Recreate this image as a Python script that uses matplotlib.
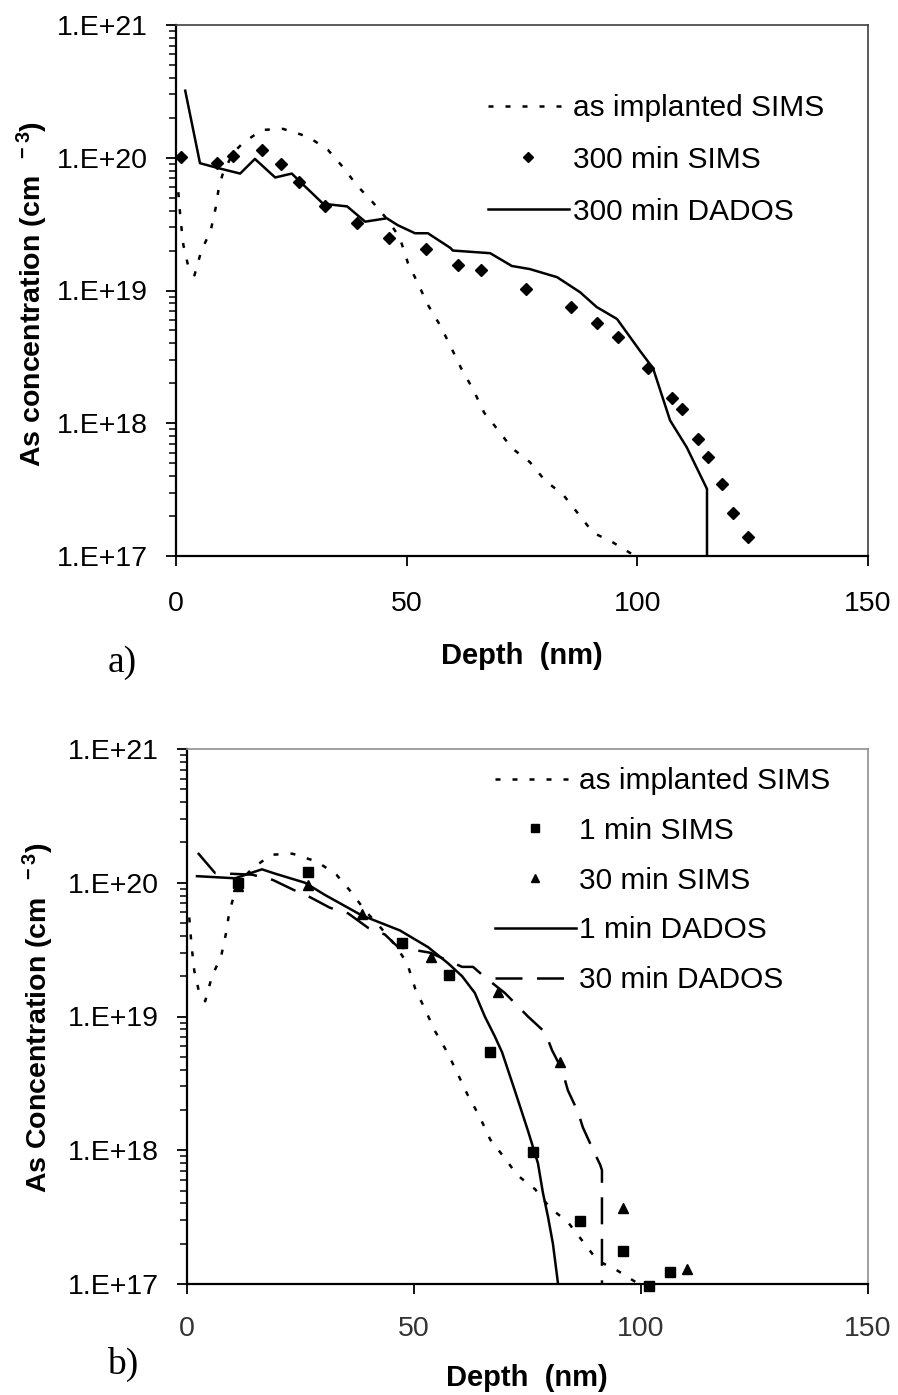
import numpy as np
import matplotlib
matplotlib.use("Agg")
import matplotlib.pyplot as plt
from matplotlib.ticker import FixedLocator, LogLocator, FixedFormatter, NullFormatter

plt.rcParams['font.family'] = ['Liberation Sans', 'DejaVu Sans']
plt.rcParams['mathtext.fontset'] = 'custom'
plt.rcParams['mathtext.rm'] = 'Liberation Sans:bold'
plt.rcParams['mathtext.bf'] = 'Liberation Sans:bold'
plt.rcParams['mathtext.default'] = 'bf'

# ---------------- data ----------------
# As-implanted SIMS profile (same measurement in both panels)
implant_depth = [0.5, 1.0, 1.6, 2.6, 4.0, 5.5, 7.5, 8.6, 9.3, 10.2, 12.4, 14.5, 18.6,
                 23.2, 28.6, 32.9, 36.2, 39.2, 42.7, 45.9, 48.5, 50.3, 52.4, 54.6,
                 57.2, 59.2, 61.8, 64.4, 66.8, 69.8, 72.8, 76.7, 80.0, 83.9, 87.1,
                 90.4, 94.8, 99.1, 101.5]
implant_conc = [5.5e19, 3.4e19, 2.2e19, 1.55e19, 1.3e19, 2.0e19, 2.8e19, 4.2e19, 6.0e19,
                7.7e19, 1.09e20, 1.29e20, 1.62e20, 1.65e20, 1.44e20, 1.15e20, 8.5e19,
                6.2e19, 4.6e19, 3.4e19, 2.5e19, 1.6e19, 1.14e19, 7.8e18, 5.5e18,
                4.0e18, 2.6e18, 1.8e18, 1.2e18, 8.9e17, 6.5e17, 5.1e17, 3.7e17,
                2.9e17, 2.1e17, 1.5e17, 1.26e17, 1.02e17, 0.95e17]

# Panel a: 300 min anneal
sims300_depth = [1.1, 8.9, 12.4, 18.6, 22.8, 26.7, 32.3, 39.2, 46.2, 54.2, 61.1, 66.1,
                 75.9, 85.6, 91.2, 95.8, 102.3, 107.5, 109.7, 113.1, 115.3, 118.3,
                 120.7, 124.0]
sims300_conc = [1.01e20, 9.1e19, 1.03e20, 1.15e20, 8.9e19, 6.6e19, 4.3e19, 3.2e19,
                2.5e19, 2.06e19, 1.55e19, 1.43e19, 1.03e19, 7.5e18, 5.7e18, 4.5e18,
                2.6e18, 1.55e18, 1.28e18, 7.6e17, 5.6e17, 3.5e17, 2.1e17, 1.4e17]

dados300_depth = [2.0, 5.2, 8.9, 13.9, 17.1, 21.5, 25.1, 26.9, 31.9, 37.1, 41.0, 45.7,
                  48.1, 51.8, 54.6, 59.5, 60.0, 68.1, 72.8, 76.7, 82.6, 87.6, 91.2,
                  95.6, 100.6, 103.4, 107.1, 110.7, 115.1, 115.1]
dados300_conc = [3.2e20, 9.1e19, 8.4e19, 7.6e19, 9.8e19, 7.1e19, 7.6e19, 6.6e19, 4.5e19,
                 4.3e19, 3.3e19, 3.5e19, 3.1e19, 2.7e19, 2.7e19, 2.09e19, 2.0e19,
                 1.91e19, 1.53e19, 1.45e19, 1.26e19, 9.7e18, 7.5e18, 6.1e18, 3.5e18,
                 2.6e18, 1.05e18, 6.6e17, 3.2e17, 5e16]

# Panel b: 1 min and 30 min anneals
sims1_depth = [11.2, 26.7, 47.4, 57.7, 66.7, 76.2, 86.6, 96.0, 101.8, 106.4]
sims1_conc = [1.0e20, 1.2e20, 3.55e19, 2.05e19, 5.4e18, 9.7e17, 2.95e17, 1.78e17,
              0.97e17, 1.23e17]

sims30_depth = [11.2, 26.7, 38.5, 53.7, 68.5, 82.2, 96.0, 110.1]
sims30_conc = [9.5e19, 9.6e19, 5.8e19, 2.8e19, 1.52e19, 4.6e18, 3.7e17, 1.3e17]

dados1_depth = [2.2, 10.6, 16.5, 19.4, 26.0, 30.4, 38.5, 46.9, 53.1, 57.5, 60.6, 63.4,
                65.6, 67.8, 69.4, 72.2, 75.1, 77.3, 78.4, 79.5, 80.6, 81.7, 82.1]
dados1_conc = [1.12e20, 1.08e20, 1.26e20, 1.17e20, 1.0e20, 8.1e19, 5.7e19, 4.4e19,
               3.3e19, 2.5e19, 2.0e19, 1.5e19, 1.0e19, 7.1e18, 5.4e18, 2.8e18, 1.4e18,
               8.0e17, 4.8e17, 3.2e17, 2.0e17, 1.02e17, 8e16]

dados30_depth = [2.4, 6.2, 14.3, 18.9, 23.3, 27.1, 31.5, 35.5, 39.9, 43.6, 46.5, 53.5,
                 60.6, 63.0, 65.6, 70.0, 72.2, 75.1, 78.9, 80.4, 82.6, 83.9, 86.1,
                 87.2, 89.6, 91.0, 91.4, 91.4]
dados30_conc = [1.67e20, 1.18e20, 1.15e20, 1.05e20, 8.9e19, 7.8e19, 6.5e19, 5.9e19,
                4.6e19, 4.1e19, 3.3e19, 3.0e19, 2.35e19, 2.35e19, 1.97e19, 1.5e19,
                1.26e19, 1.0e19, 7.6e18, 5.6e18, 4.0e18, 2.8e18, 1.94e18, 1.48e18,
                9.8e17, 7.8e17, 7.1e17, 5e16]

x_ticks = [0, 50, 100, 150]
y_ticks = [1e17, 1e18, 1e19, 1e20, 1e21]
y_tick_labels = ["1.E+17", "1.E+18", "1.E+19", "1.E+20", "1.E+21"]

# ---------------- figure ----------------
W, H = 898, 1395
fig = plt.figure(figsize=(W / 100, H / 100), dpi=100)


def rect(l, t, r, b):
    return [l / W, 1 - b / H, (r - l) / W, (b - t) / H]


ax_a = fig.add_axes(rect(176, 25, 868, 556))
ax_b = fig.add_axes(rect(187, 749, 868, 1284))

LW = 1.8
DOT = (0, (2.0, 4.8))
LONG_DASH = (0, (10.8, 5.8))


def style_axes(ax, frame_color, xlabel_color, xpad):
    ax.set_yscale('log')
    ax.set_xlim(0, 150)
    ax.set_ylim(1e17, 1e21)
    ax.xaxis.set_major_locator(FixedLocator(x_ticks))
    ax.yaxis.set_major_locator(FixedLocator(y_ticks))
    ax.yaxis.set_major_formatter(FixedFormatter(y_tick_labels))
    ax.yaxis.set_minor_locator(LogLocator(base=10, subs=np.arange(2, 10), numticks=100))
    ax.yaxis.set_minor_formatter(NullFormatter())
    for s in ('left', 'bottom'):
        ax.spines[s].set_linewidth(1.6)
        ax.spines[s].set_color('black')
    for s in ('top', 'right'):
        ax.spines[s].set_linewidth(1.2)
        ax.spines[s].set_color(frame_color)
    ax.tick_params(axis='both', which='major', direction='out', length=7.2,
                   width=1.3, labelsize=20.5, top=False, right=False)
    ax.tick_params(axis='y', which='minor', direction='out', length=5,
                   width=1.1, right=False)
    ax.tick_params(axis='y', pad=13)
    ax.tick_params(axis='x', pad=xpad, labelcolor=xlabel_color)


style_axes(ax_a, '#404040', 'black', 18)
style_axes(ax_b, '#909090', '#333333', 16)

# Panel a
ax_a.plot(implant_depth, implant_conc, color='black', lw=LW, ls=DOT,
          label='as implanted SIMS')
ax_a.plot(sims300_depth, sims300_conc, ls='none', marker='D', ms=6.5, color='black',
          label='300 min SIMS')
ax_a.plot(dados300_depth, dados300_conc, color='black', lw=LW, ls='-',
          label='300 min DADOS')

# Panel b
ax_b.plot(implant_depth, implant_conc, color='black', lw=LW, ls=DOT,
          label='as implanted SIMS')
ax_b.plot(sims1_depth, sims1_conc, ls='none', marker='s', ms=7.2, color='black',
          label='1 min SIMS', clip_on=False)
ax_b.plot(sims30_depth, sims30_conc, ls='none', marker='^', ms=7.8, color='black',
          label='30 min SIMS')
ax_b.plot(dados1_depth, dados1_conc, color='black', lw=LW, ls='-',
          label='1 min DADOS')
ax_b.plot(dados30_depth, dados30_conc, color='black', lw=LW, ls=LONG_DASH,
          label='30 min DADOS')

leg_kw = dict(loc='upper left', bbox_transform=fig.transFigure, frameon=False,
              fontsize=21.5, handlelength=2.7, borderpad=0, borderaxespad=0,
              numpoints=1, markerscale=0.75)
ax_a.legend(bbox_to_anchor=(488 / W, 1 - 94 / H), handletextpad=0.15,
            labelspacing=0.8, **leg_kw)
ax_b.legend(bbox_to_anchor=(495 / W, 1 - 767 / H), handletextpad=0.12,
            labelspacing=0.73, **leg_kw)

# Axis titles
ax_a.set_xlabel('Depth  (nm)', fontsize=21, fontweight='bold', va='center')
ax_a.xaxis.set_label_coords(0.5, (556 - 656) / 531)
ax_b.set_xlabel('Depth  (nm)', fontsize=21, fontweight='bold', va='center')
ax_b.xaxis.set_label_coords(0.499, (1284 - 1378) / 535)

ax_a.set_ylabel('As concentration (cm' + r'$^{\ \ -3}$' + ')', fontsize=20.5,
                fontweight='bold', va='center', ha='center')
ax_a.yaxis.set_label_coords((32 - 176) / 692, (556 - 294) / 531)
ax_b.set_ylabel('As Concentration (cm' + r'$^{\ \ -3}$' + ')', fontsize=20.5,
                fontweight='bold', va='center', ha='center')
ax_b.yaxis.set_label_coords((38 - 187) / 681, (1284 - 1018) / 535)

# Panel tags
fig.text(122 / W, 1 - 663 / H, 'a)', family=['Liberation Serif', 'DejaVu Serif'],
         fontsize=27, ha='center', va='center')
fig.text(123 / W, 1 - 1364 / H, 'b)', family=['Liberation Serif', 'DejaVu Serif'],
         fontsize=27, ha='center', va='center')

fig.savefig('out.png', dpi=100, facecolor='white')
